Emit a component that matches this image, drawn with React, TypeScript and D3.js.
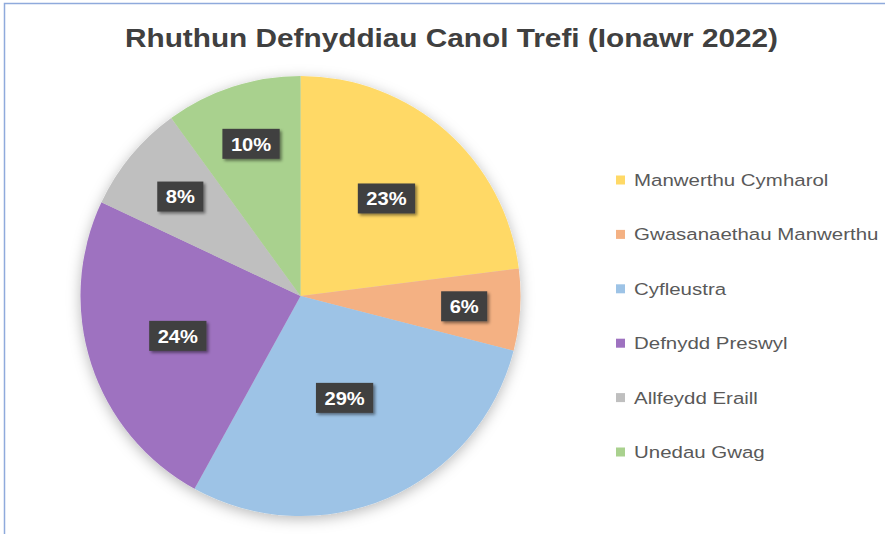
import { useEffect, useRef } from 'react';
import * as d3 from 'd3';

const categories = [
  'Manwerthu Cymharol',
  'Gwasanaethau Manwerthu',
  'Cyfleustra',
  'Defnydd Preswyl',
  'Allfeydd Eraill',
  'Unedau Gwag',
];
const shares = [23, 6, 29, 24, 8, 10];
const colours = ['#FFD966', '#F4B183', '#9DC3E6', '#9E72C0', '#BFBFBF', '#A9D18E'];
const title = 'Rhuthun Defnyddiau Canol Trefi (Ionawr 2022)';

const App = () => {
  const svgRef = useRef<SVGSVGElement>(null);

  useEffect(() => {
    const width = 885;
    const height = 534;
    const svg = d3.select(svgRef.current).attr('width', width).attr('height', height);
    svg.selectAll('*').remove();

    const defs = svg.append('defs');
    defs.append('filter')
      .attr('id', 'pieShadow')
      .attr('x', '-20%').attr('y', '-20%').attr('width', '140%').attr('height', '140%')
      .append('feDropShadow')
      .attr('dx', 0).attr('dy', 3).attr('stdDeviation', 7)
      .attr('flood-color', '#000').attr('flood-opacity', 0.28);
    defs.append('filter')
      .attr('id', 'boxShadow')
      .attr('x', '-20%').attr('y', '-30%').attr('width', '150%').attr('height', '170%')
      .append('feDropShadow')
      .attr('dx', 2).attr('dy', 2).attr('stdDeviation', 1.5)
      .attr('flood-color', '#000').attr('flood-opacity', 0.45);

    svg.append('rect')
      .attr('width', width).attr('height', height)
      .attr('fill', '#ffffff');
    svg.append('path')
      .attr('d', `M4.5,${height} V3.5 H${width}`)
      .attr('fill', 'none')
      .attr('stroke', '#8FAADC')
      .attr('stroke-width', 1.5);

    // the source image is stretched sideways, so text is widened to match
    svg.append('text')
      .attr('x', 125).attr('y', 47)
      .attr('textLength', 653)
      .attr('lengthAdjust', 'spacingAndGlyphs')
      .attr('font-family', 'Liberation Sans, Arial, sans-serif')
      .attr('font-weight', 'bold')
      .attr('font-size', 26.5)
      .attr('fill', '#404040')
      .text(title);

    const radius = 220;
    const graph = svg.append('g').attr('transform', 'translate(300.5, 296)');

    const pie = d3.pie<number>().sort(null).value(d => d);
    const arcs = pie(shares);
    const arcPath = d3.arc<d3.PieArcDatum<number>>().innerRadius(0).outerRadius(radius);

    const slices = graph.append('g').attr('filter', 'url(#pieShadow)');
    slices.selectAll('path')
      .data(arcs)
      .enter()
      .append('path')
      .attr('d', arcPath)
      .attr('fill', (d, i) => colours[i]);

    // Excel "best fit" label distances from centre
    const labelRadius = [130, 164, 111, 129, 156, 160];
    const fontSize = 19;
    const labels = graph.selectAll('g.label')
      .data(arcs)
      .enter()
      .append('g')
      .attr('class', 'label')
      .attr('transform', (d, i) => {
        const a = (d.startAngle + d.endAngle) / 2;
        const r = labelRadius[i];
        return `translate(${r * Math.sin(a)}, ${-r * Math.cos(a)})`;
      });

    labels.each(function (d) {
      const g = d3.select(this);
      const label = `${d.data}%`;
      const text = g.append('text')
        .attr('text-anchor', 'middle')
        .attr('dy', '0.36em')
        .attr('transform', 'scale(1.06,1)')
        .attr('font-family', 'Liberation Sans, Arial, sans-serif')
        .attr('font-weight', 'bold')
        .attr('font-size', fontSize)
        .attr('fill', '#ffffff')
        .text(label);
      const w = (text.node() as SVGTextElement).getComputedTextLength() * 1.06 + 17;
      const h = 30;
      g.insert('rect', 'text')
        .attr('x', -w / 2).attr('y', -h / 2)
        .attr('width', w).attr('height', h)
        .attr('fill', '#404040')
        .attr('filter', 'url(#boxShadow)');
    });

    const legendY = d3.scalePoint<string>()
      .domain(categories)
      .range([180, 452]);

    const legend = svg.append('g')
      .selectAll('g')
      .data(categories)
      .enter()
      .append('g')
      .attr('transform', d => `translate(616, ${legendY(d)})`);

    legend.append('rect')
      .attr('x', 0).attr('y', -4.5)
      .attr('width', 9).attr('height', 9)
      .attr('fill', (d, i) => colours[i]);

    legend.append('text')
      .attr('transform', 'translate(18, 0) scale(1.24, 1)')
      .attr('dy', '0.36em')
      .attr('font-family', 'Liberation Sans, Arial, sans-serif')
      .attr('font-size', 16.5)
      .attr('fill', '#595959')
      .text(d => d);
  }, []);

  return (
    <svg ref={svgRef} style={{ position: 'absolute', left: 0, top: 0 }}></svg>
  );
};

export default App;
